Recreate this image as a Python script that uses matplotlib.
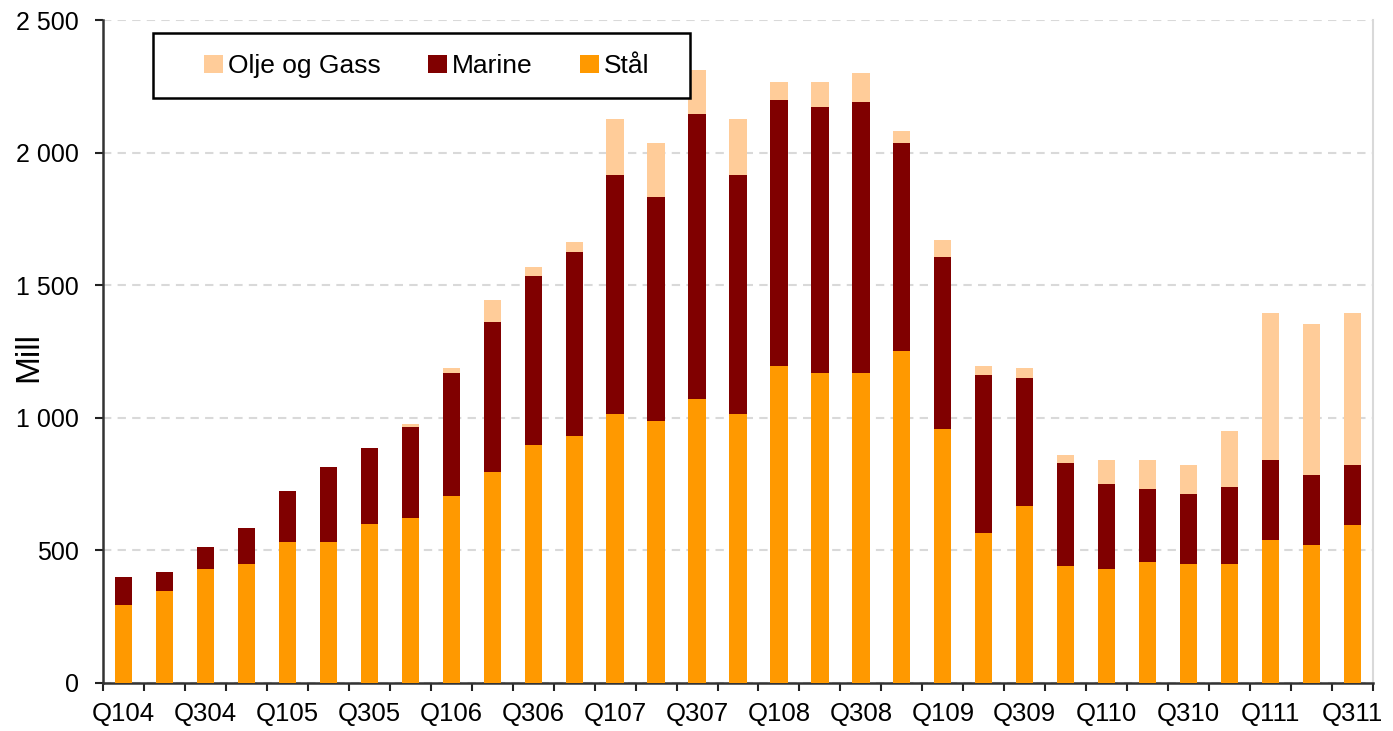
import matplotlib
matplotlib.use("Agg")
import matplotlib.pyplot as plt
import numpy as np
from matplotlib.ticker import FuncFormatter, MultipleLocator
from matplotlib.patches import Rectangle

plt.rcParams['font.family'] = ['Liberation Sans', 'DejaVu Sans']

quarters = []
for yr in range(4, 12):
    for q in range(1, 5):
        if yr == 11 and q == 4:
            break
        quarters.append(f"Q{q}{yr:02d}")

stal = [295, 347, 430, 449, 532, 532, 600, 622, 705, 796, 897, 931,
        1014, 988, 1071, 1014, 1195, 1169, 1169, 1252, 958, 566, 667,
        441, 430, 456, 449, 449, 539, 520, 596]
marine = [105, 73, 83, 136, 192, 283, 286, 343, 464, 565, 638, 694,
          902, 845, 1075, 902, 1003, 1003, 1022, 784, 648, 595, 483,
          389, 320, 276, 264, 290, 302, 264, 226]
olje = [0, 0, 0, 0, 0, 0, 0, 12, 19, 83, 34, 38,
        211, 203, 165, 211, 68, 94, 109, 45, 64, 34, 38,
        30, 91, 109, 109, 211, 554, 570, 573]

c_olje = '#FFCC99'
c_marine = '#800000'
c_stal = '#FF9900'

W, H = 1393, 731
fig = plt.figure(figsize=(W / 100, H / 100), dpi=100)
ax = fig.add_axes([103 / W, 48 / H, 1270 / W, 663 / H])

x = np.arange(len(quarters))
w = 0.42
stal_a = np.array(stal)
marine_a = np.array(marine)
olje_a = np.array(olje)
b1 = ax.bar(x, stal_a, w, color=c_stal, label='Stål', zorder=3)
b2 = ax.bar(x, marine_a, w, bottom=stal_a, color=c_marine, label='Marine', zorder=3)
b3 = ax.bar(x, olje_a, w, bottom=stal_a + marine_a, color=c_olje, label='Olje og Gass', zorder=3)

ax.set_xlim(-0.5, len(quarters) - 0.5)
ax.set_ylim(0, 2500)
ax.yaxis.set_major_locator(MultipleLocator(500))
ax.yaxis.set_major_formatter(FuncFormatter(lambda v, p: f"{int(v):,}".replace(",", " ")))
ax.grid(axis='y', color='#D9D9D9', linestyle=(0, (4, 3)), linewidth=1.5, zorder=0)

ax.set_xticks(np.arange(len(quarters) + 1) - 0.5)
ax.set_xticklabels([])
ax.set_xticks(x[::2], minor=True)
ax.set_xticklabels(quarters[::2], minor=True)
ax.tick_params(axis='x', which='major', direction='out', length=5.5, width=1.5, color='#222222')
ax.tick_params(axis='x', which='minor', length=0, labelsize=18.5, pad=14)
ax.tick_params(axis='y', direction='out', length=5.5, width=1.5, color='#222222', labelsize=18, pad=12)

for s in ['left', 'bottom']:
    ax.spines[s].set_linewidth(1.8)
    ax.spines[s].set_color('#333333')
ax.spines['top'].set_visible(False)
ax.spines['right'].set_color('#D9D9D9')
ax.spines['right'].set_linewidth(1.5)

ax.set_ylabel('Mill', fontsize=24)
ax.yaxis.set_label_coords((44 - 103) / 1270, (683 - 357) / 663)

# legend frame (drawn above bars)
frame = Rectangle((153 / W, 1 - 98 / H), (690 - 153) / W, (98 - 33) / H,
                  transform=fig.transFigure, facecolor='white', edgecolor='black',
                  linewidth=1.8, zorder=10, clip_on=False)
ax.add_artist(frame)

leg = ax.legend(handles=[b3, b2, b1], loc='center', ncol=3,
                bbox_to_anchor=(427 / W, 1 - 66 / H), bbox_transform=fig.transFigure,
                fontsize=19, frameon=False,
                handlelength=0.7, handleheight=0.7, handletextpad=0.2, columnspacing=1.8,
                borderpad=0, borderaxespad=0)
leg.set_zorder(11)

fig.savefig('out.png', dpi=100)
